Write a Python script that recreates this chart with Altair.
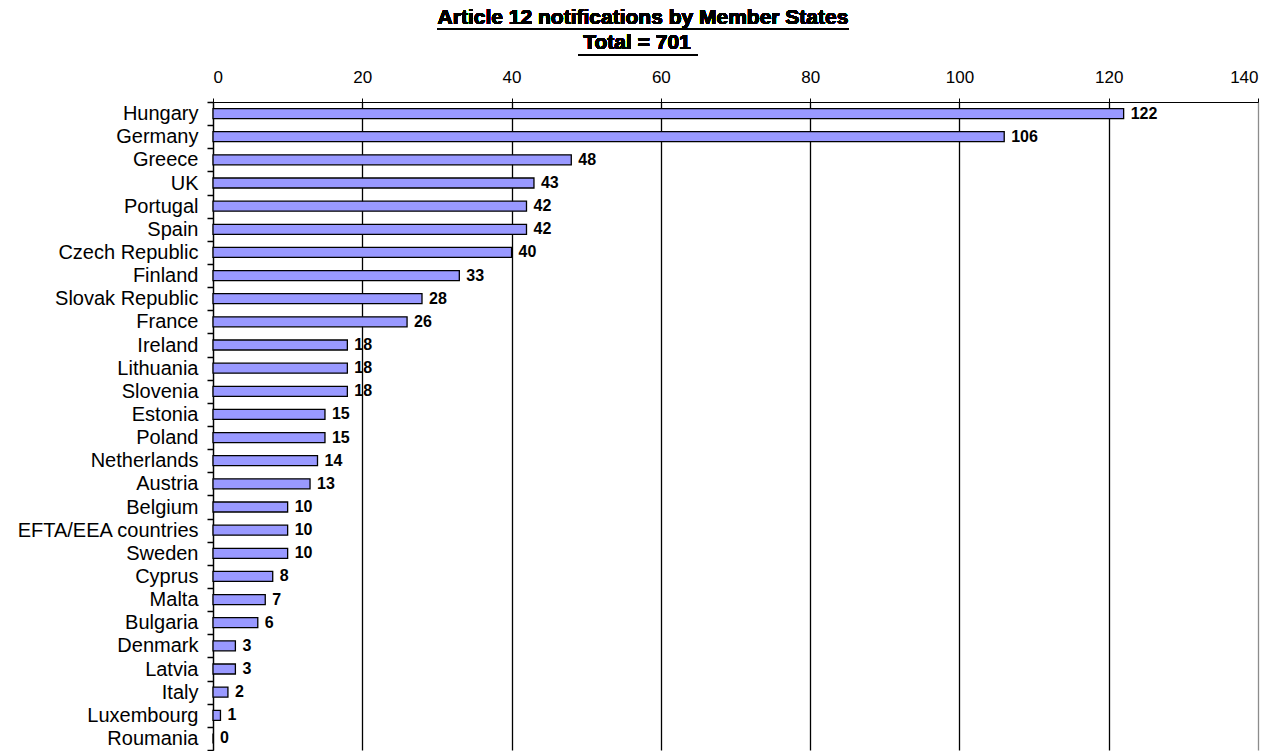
import altair as alt
import pandas as pd

countries = [
    "Hungary", "Germany", "Greece", "UK", "Portugal", "Spain", "Czech Republic",
    "Finland", "Slovak Republic", "France", "Ireland", "Lithuania", "Slovenia",
    "Estonia", "Poland", "Netherlands", "Austria", "Belgium", "EFTA/EEA countries",
    "Sweden", "Cyprus", "Malta", "Bulgaria", "Denmark", "Latvia", "Italy",
    "Luxembourg", "Roumania",
]
notifications = [
    122, 106, 48, 43, 42, 42, 40, 33, 28, 26, 18, 18, 18, 15, 15, 14, 13,
    10, 10, 10, 8, 7, 6, 3, 3, 2, 1, 0,
]
x_ticks = [0, 20, 40, 60, 80, 100, 120, 140]

title_line1 = "Article 12 notifications by Member States"
title_line2 = "Total = 701"

df = pd.DataFrame({"country": countries, "n": notifications})

FONT = "Liberation Sans"
W, H = 1045, 648

x_enc = alt.X(
    "n:Q",
    scale=alt.Scale(domain=[0, 140], nice=False, zero=True),
    axis=alt.Axis(
        orient="top", values=x_ticks, title=None, format="d",
        labelFont=FONT, labelFontSize=17, labelColor="black", labelPadding=12,
        domainColor="black", domainWidth=1.2, tickColor="black", tickSize=4,
        grid=True, gridWidth=1.3,
        gridColor={"condition": {"test": "datum.value == 140", "value": "#8c8c8c"}, "value": "black"},
    ),
)
y_enc = alt.Y(
    "country:N", sort=countries,
    scale=alt.Scale(paddingInner=0, paddingOuter=0),
    axis=alt.Axis(
        title=None, tickBand="extent", labelFont=FONT, labelFontSize=20,
        labelColor="black", labelPadding=9, labelLimit=300, tickSize=6,
        tickColor="black", tickWidth=1.5, domainColor="black", domainWidth=1.2,
        grid=False,
    ),
)

bars = alt.Chart(df).mark_bar(size=10, color="#9999FF", stroke="black", strokeWidth=1.3).encode(
    x=x_enc, y=y_enc
)
labels = alt.Chart(df).mark_text(
    align="left", baseline="middle", dx=7, font=FONT, fontSize=16, fontWeight="bold", color="black"
).encode(x="n:Q", y=alt.Y("country:N", sort=countries), text="n:Q")

t1 = alt.Chart(df).mark_text(
    font=FONT, fontSize=21, fontWeight="bold", color="black", baseline="middle", align="center"
).encode(x=alt.value(430), y=alt.value(-84), text=alt.value(title_line1))
t2 = alt.Chart(df).mark_text(
    font=FONT, fontSize=21, fontWeight="bold", color="black", baseline="middle", align="center"
).encode(x=alt.value(424), y=alt.value(-59), text=alt.value(title_line2))
u1 = alt.Chart(df).mark_rule(color="black", strokeWidth=2).encode(
    x=alt.value(224), x2=alt.value(636), y=alt.value(-73)
)
u2 = alt.Chart(df).mark_rule(color="black", strokeWidth=2).encode(
    x=alt.value(365), x2=alt.value(485), y=alt.value(-47)
)

chart = (
    alt.layer(bars, labels, t1, t2, u1, u2)
    .properties(
        width=W, height=H,
        autosize=alt.AutoSizeParams(type="none"),
        padding={"left": 213, "top": 102, "right": 13, "bottom": 1},
        background="white",
    )
    .configure_view(stroke=None)
)

chart.save("out.html", embed_options={"renderer": "svg", "actions": False})
